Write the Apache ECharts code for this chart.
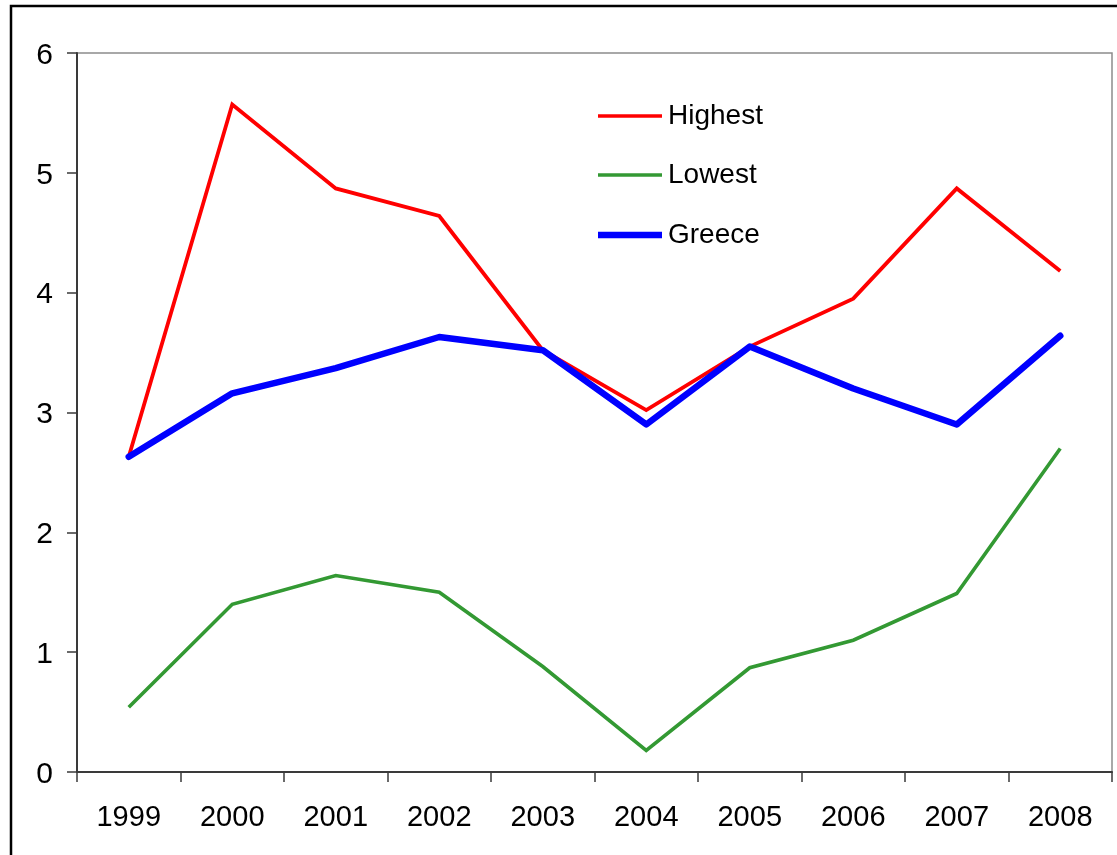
<!DOCTYPE html>
<html>
<head>
<meta charset="utf-8">
<script src="https://cdn.jsdelivr.net/npm/echarts@6/dist/echarts.min.js"></script>
<style>
  html, body { margin: 0; padding: 0; background: #fff; }
  #chart { width: 1117px; height: 855px; }
</style>
</head>
<body>
<div id="chart"></div>
<script>
// Years on the category axis
const years = ['1999', '2000', '2001', '2002', '2003', '2004', '2005', '2006', '2007', '2008'];
// Series values
const highest = [2.63, 5.57, 4.87, 4.64, 3.52, 3.02, 3.55, 3.95, 4.87, 4.18];
const lowest  = [0.54, 1.40, 1.64, 1.50, 0.88, 0.18, 0.87, 1.10, 1.49, 2.70];
const greece  = [2.63, 3.16, 3.37, 3.63, 3.52, 2.90, 3.55, 3.20, 2.90, 3.64];

const font = '"Liberation Sans", Arial, sans-serif';

// One legend block per series so each key line can keep its own thickness
function legendBlock(name, centerY, thickness) {
  return {
    orient: 'vertical',
    left: 598,
    top: centerY - 16,
    padding: 0,
    icon: 'rect',
    itemWidth: 64,
    itemHeight: thickness,
    textStyle: { fontFamily: font, fontSize: 28, color: '#000', lineHeight: 32, padding: [0, 0, 0, 1] },
    data: [name]
  };
}

const chart = echarts.init(document.getElementById('chart'), null, { renderer: 'canvas' });

chart.setOption({
  backgroundColor: '#fff',
  animation: false,
  textStyle: { fontFamily: font, color: '#000' },
  grid: {
    left: 77, right: 5, top: 53, bottom: 83,
    show: true, borderColor: '#8c8c8c', borderWidth: 1.5, backgroundColor: 'transparent'
  },
  graphic: [{
    type: 'rect', z: 100,
    shape: { x: 11, y: 6, width: 1300, height: 1000 },
    style: { fill: 'none', stroke: '#000', lineWidth: 2.5 }
  }],
  legend: [
    legendBlock('Highest', 116, 3.5),
    legendBlock('Lowest', 175, 3.5),
    legendBlock('Greece', 235, 6.5)
  ],
  xAxis: {
    type: 'category',
    data: years,
    boundaryGap: true,
    axisLine: { lineStyle: { color: '#3a3a3a', width: 2 } },
    axisTick: { show: true, length: 10, lineStyle: { color: '#3a3a3a', width: 1.5 } },
    axisLabel: { fontFamily: font, fontSize: 29, color: '#000', margin: 31 },
    splitLine: { show: false }
  },
  yAxis: {
    type: 'value',
    min: 0, max: 6, interval: 1,
    axisLine: { show: true, lineStyle: { color: '#3a3a3a', width: 2 } },
    axisTick: { show: true, length: 10, lineStyle: { color: '#3a3a3a', width: 1.5 } },
    axisLabel: {
      fontFamily: font, fontSize: 30, color: '#000', margin: 24,
      formatter: v => '{v|' + v + '}',
      rich: { v: { fontFamily: font, fontSize: 30, color: '#000', padding: [5, 0, 0, 0] } }
    },
    splitLine: { show: false }
  },
  series: [
    {
      name: 'Highest', type: 'line', data: highest,
      symbol: 'none', color: '#ff0000',
      lineStyle: { color: '#ff0000', width: 3.8, join: 'miter' }, z: 3
    },
    {
      name: 'Lowest', type: 'line', data: lowest,
      symbol: 'none', color: '#339933',
      lineStyle: { color: '#339933', width: 3.6, join: 'miter' }, z: 2
    },
    {
      name: 'Greece', type: 'line', data: greece,
      symbol: 'none', color: '#0000ff',
      lineStyle: { color: '#0000ff', width: 6.5, cap: 'round', join: 'round' }, z: 4
    }
  ]
});
</script>
</body>
</html>
